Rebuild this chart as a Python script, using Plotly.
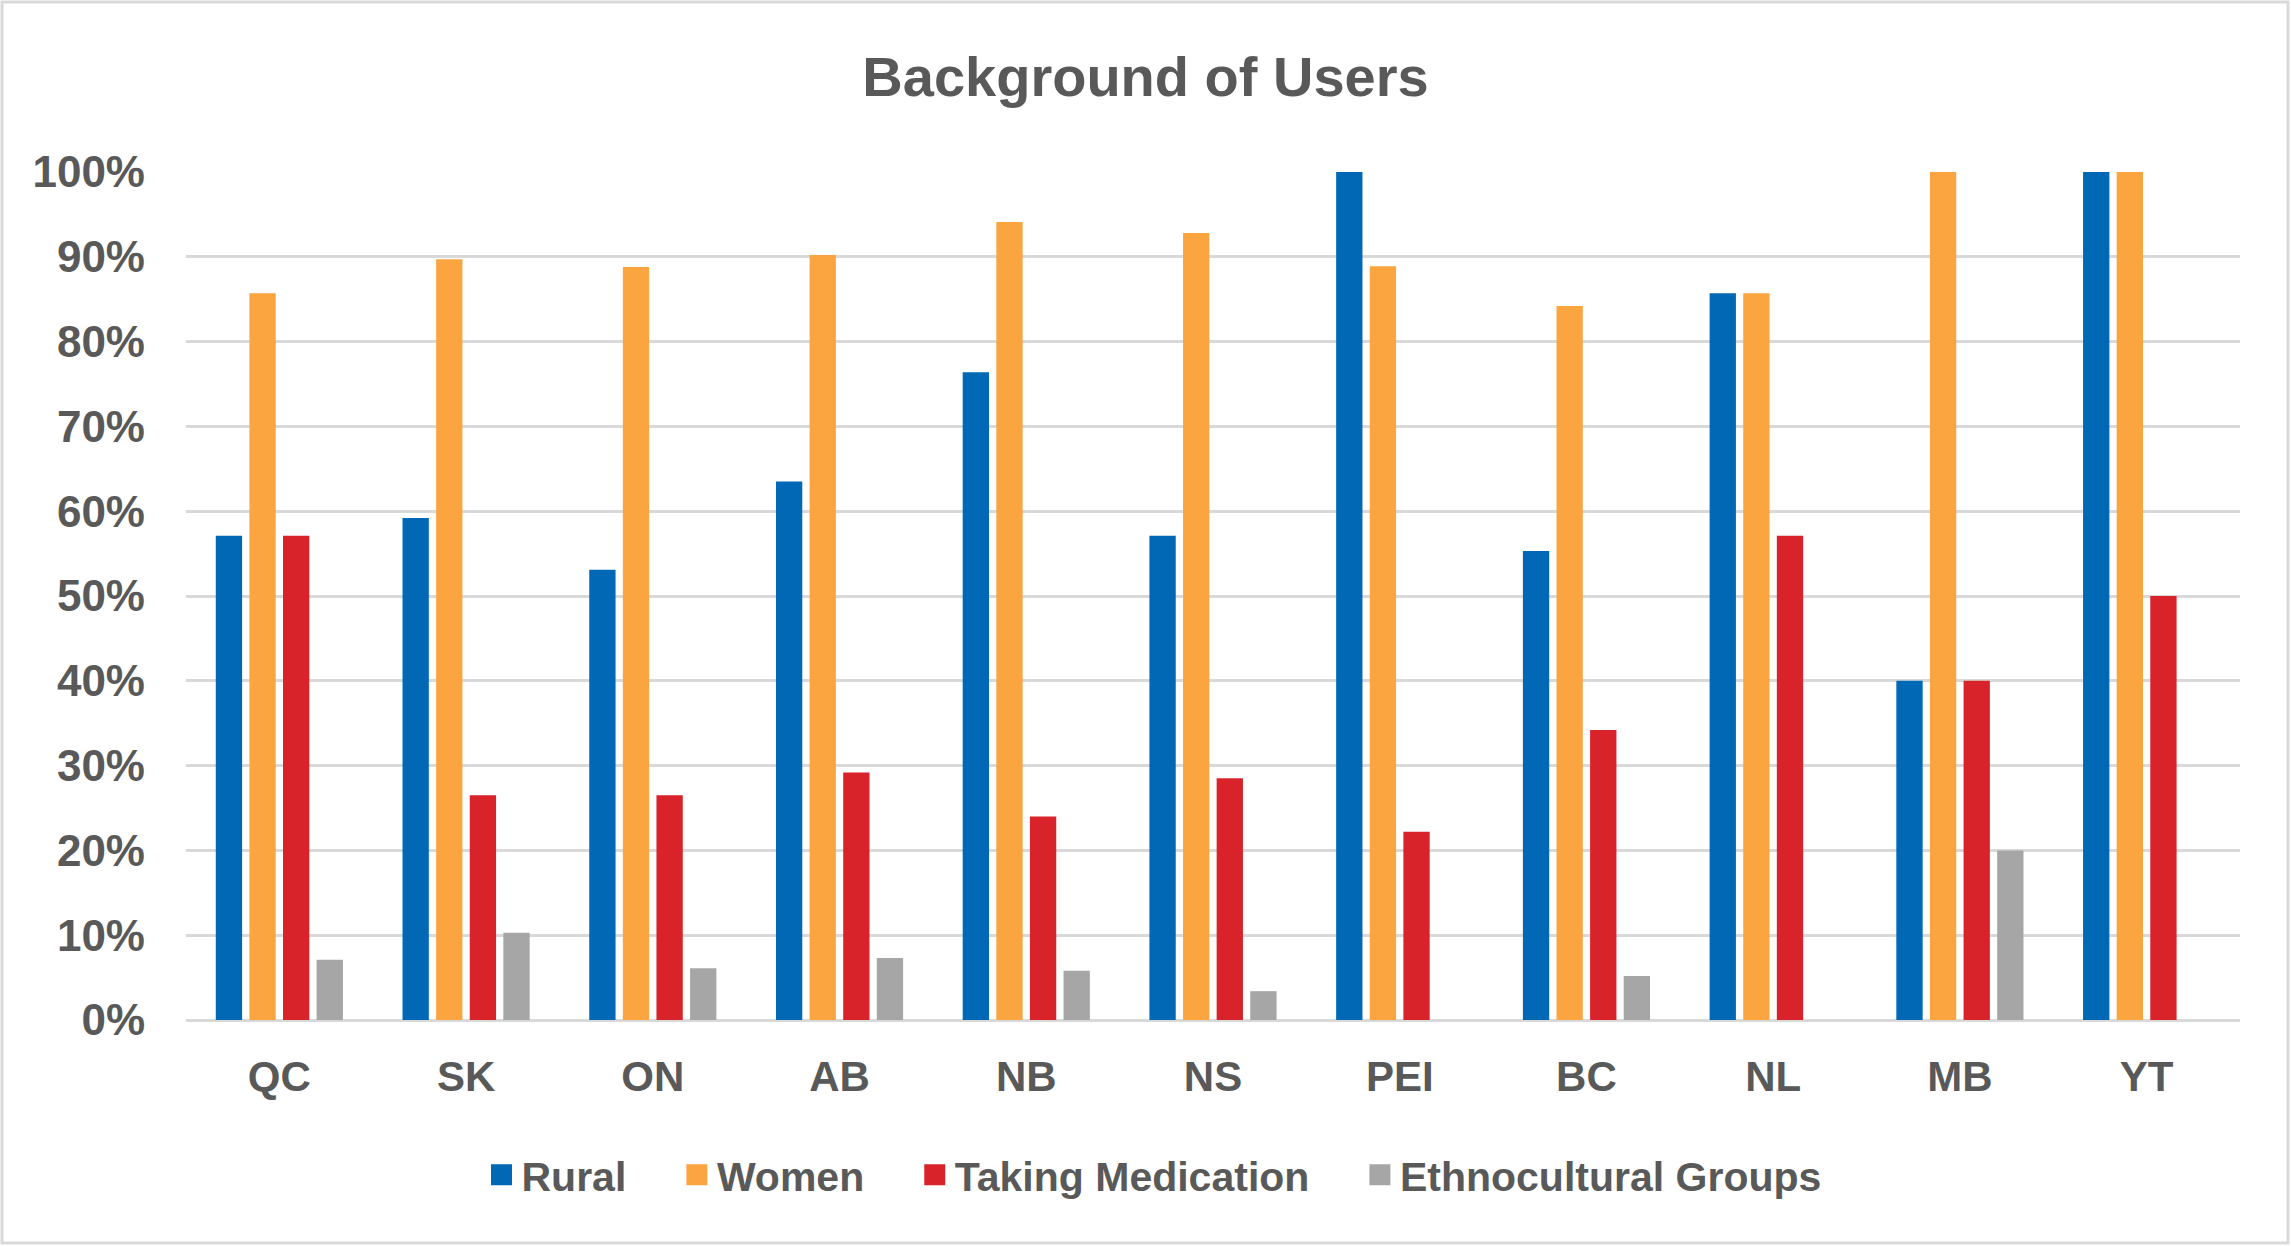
import plotly.graph_objects as go

provinces = ["QC", "SK", "ON", "AB", "NB", "NS", "PEI", "BC", "NL", "MB", "YT"]
rural = [57.1, 59.2, 53.1, 63.5, 76.4, 57.1, 100, 55.3, 85.7, 40, 100]
women = [85.7, 89.7, 88.8, 90.2, 94.1, 92.8, 88.9, 84.2, 85.7, 100, 100]
medication = [57.1, 26.5, 26.5, 29.2, 24.0, 28.5, 22.2, 34.2, 57.1, 40, 50]
ethno = [7.1, 10.3, 6.1, 7.3, 5.8, 3.4, 0, 5.2, 0, 20, 0]
y_ticks = [0, 10, 20, 30, 40, 50, 60, 70, 80, 90, 100]

series = [
    ("Rural", rural, "#0068B5"),
    ("Women", women, "#FBA541"),
    ("Taking Medication", medication, "#D9232B"),
    ("Ethnocultural Groups", ethno, "#A6A6A6"),
]

W, H = 2291, 1246
ml, mr, mt, mb = 186, 51, 172, 226
pw, ph = W - ml - mr, H - mt - mb

font_main = dict(family="Liberation Sans, Arial, sans-serif", color="#595959")
pad = "\u00a0" * 4

fig = go.Figure()
for i, (name, vals, col) in enumerate(series):
    fig.add_trace(go.Bar(
        x=provinces, y=[v / 100 for v in vals], name=name,
        marker=dict(color=col, line=dict(width=0)),
        showlegend=False, legendgroup=name,
    ))
# legend entries with larger square swatches
for i, (name, vals, col) in enumerate(series):
    label = name + (pad if i < len(series) - 1 else "")
    fig.add_trace(go.Scatter(
        x=[None], y=[None], mode="markers", name=label, legendgroup=name,
        marker=dict(symbol="square", size=16, color=col, line=dict(color=col, width=5)),
        hoverinfo="skip",
    ))

fig.update_layout(
    width=W, height=H,
    margin=dict(l=ml, r=mr, t=mt, b=mb),
    paper_bgcolor="white", plot_bgcolor="white",
    barmode="group", bargap=0.28, bargroupgap=0.217,
    title=dict(text="Background of Users", x=0.5, xref="container", xanchor="center",
               y=1 - 76 / H, yref="container", yanchor="middle",
               font=dict(size=56, weight="bold", **font_main)),
    font=font_main,
    legend=dict(orientation="h", x=(1154 - ml) / pw, xanchor="center",
                y=-(1175 - (mt + ph)) / ph, yanchor="middle",
                font=dict(size=41, weight="bold", **font_main),
                traceorder="normal"),
    showlegend=True,
)
fig.update_yaxes(
    range=[0, 1], tickvals=[t / 100 for t in y_ticks], tickformat=".0%",
    showgrid=True, gridcolor="#D9D9D9", gridwidth=2.5,
    zeroline=True, zerolinecolor="#D9D9D9", zerolinewidth=3,
    tickfont=dict(size=44, weight="bold", **font_main),
    ticklabelstandoff=40, showline=False,
)
fig.update_xaxes(
    tickfont=dict(size=42, weight="bold", **font_main),
    ticklabelstandoff=28, showline=False, showgrid=False,
)
# outer chart border
fig.add_shape(type="rect", xref="paper", yref="paper",
              x0=-(ml - 2) / pw, x1=1 + (mr - 3) / pw,
              y0=-(mb - 3) / ph, y1=1 + (mt - 2) / ph,
              line=dict(color="#D9D9D9", width=3), fillcolor="rgba(0,0,0,0)", layer="below")

fig.write_html("out.html", config={"displayModeBar": False},
               post_script="document.body.style.margin='0';")
